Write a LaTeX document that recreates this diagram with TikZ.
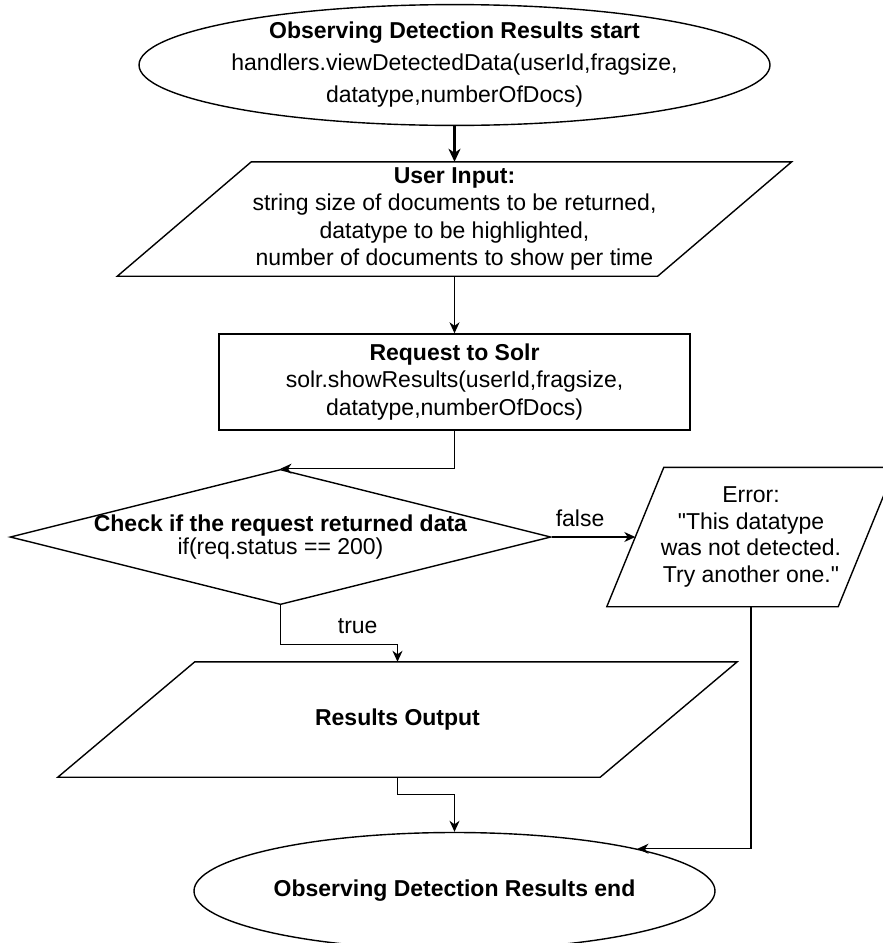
\documentclass[tikz,border=0pt]{standalone}
\usepackage{fontspec}
\setmainfont{Liberation Sans}
\usetikzlibrary{arrows.meta,shapes.geometric}

% outline of a slanted (input/output) box around a rectangular node
\newcommand\drawslant[2]{%
  \draw[shapeline] ([xshift=-#2]#1.south west) -- ([xshift=-#2]#1.south east)
    -- ([xshift=#2]#1.north east) -- ([xshift=#2]#1.north west) -- cycle;}

\begin{document}
\begin{tikzpicture}[x=1pt,y=-1pt,
  shapeline/.style={draw=black,line width=1.4pt,line join=miter},
  txt/.style={align=center,inner sep=0pt,font=\fontsize{23}{27.6}\selectfont},
  term/.style={shapeline,ellipse,minimum width=521pt,minimum height=117pt,
    inner sep=0pt,align=center},
  slantbox/.style={txt},
  procbox/.style={shapeline,rectangle,txt},
  decision/.style={shapeline,diamond,aspect=4,inner sep=0pt,inner xsep=-4pt,
    align=center,font=\fontsize{23}{20}\selectfont},
  flow/.style={line width=1.4pt,-{Stealth[length=11pt,width=10pt,inset=3.5pt]}},
  boldflow/.style={line width=2.6pt,-{Stealth[length=13pt,width=12pt,inset=4pt]}},
  edgelabel/.style={inner sep=0pt,font=\fontsize{23}{27.6}\selectfont}
]
\useasboundingbox (0,0) rectangle (883,943);
\clip (0,0) rectangle (883,943);

% start terminal
\node[term,font=\fontsize{23}{32}\selectfont] (start) at (454.5,65)
  {\textbf{Observing Detection Results start}\\
   handlers.viewDetectedData(userId,fragsize,\\
   datatype,numberOfDocs)};

% user input
\node[slantbox,minimum width=540pt,minimum height=114pt] (inp) at (454.5,219)
  {\textbf{User Input:}\\
   string size of documents to be returned,\\
   datatype to be highlighted,\\
   number of documents to show per time};
\drawslant{inp}{67pt}

% request
\node[procbox,minimum width=471pt,minimum height=96pt] (req) at (454.5,382)
  {\textbf{Request to Solr}\\
   solr.showResults(userId,fragsize,\\
   datatype,numberOfDocs)};

% decision
\node[decision,minimum width=536pt,minimum height=134pt] (chk) at (280.5,537)
  {\textbf{Check if the request returned data}\\
   if(req.status == 200)};

% error output
\node[slantbox,minimum width=231pt,minimum height=139pt,
      font=\fontsize{23}{26.5}\selectfont] (err) at (751,537)
  {Error:\\
   \textquotedbl This datatype \\
   was not detected.\\
   Try another one.\textquotedbl};
\drawslant{err}{28.5pt}

% results output
\node[slantbox,minimum width=542pt,minimum height=115pt] (res) at (397.5,719.5)
  {\textbf{Results Output}};
\drawslant{res}{68.5pt}

% end terminal
\node[term,font=\fontsize{23}{27.6}\selectfont] (stop) at (454.5,891)
  {\textbf{Observing Detection Results end}};

% connectors
\draw[boldflow] (start.south) -- (inp.north);
\draw[flow] (inp.south) -- (req.north);
\draw[flow] (req.south) |- (chk.north);
\draw[flow] (chk.east) -- node[edgelabel,pos=0.34,above=10pt] {false} (err.west);
\draw[flow] (chk.south) -- ++(0,39) -| node[edgelabel,pos=0.33,above=10pt] {true} (res.north);
\draw[flow] (res.south) -- ++(0,17) -| (stop.north);
\draw[flow] (err.south) |- (stop.13);
\end{tikzpicture}
\end{document}
